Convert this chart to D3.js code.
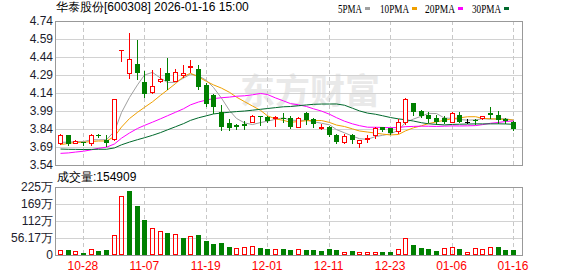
<!DOCTYPE html>
<html>
<head>
<meta charset="utf-8">
<script src="https://cdn.jsdelivr.net/npm/d3@7"></script>
<style>
  body { margin: 0; background: #fff; }
  text { font-family: "Liberation Sans", Arial, sans-serif; }
</style>
</head>
<body>
<div id="chart"></div>
<script>
// trading days shown on the chart
const dates = ["10-23","10-24","10-27","10-28","10-29","10-30","10-31",
  "11-03","11-04","11-05","11-06","11-07","11-10","11-11","11-12","11-13","11-14","11-17","11-18","11-19","11-20","11-21","11-24","11-25","11-26","11-27","11-28",
  "12-01","12-02","12-03","12-04","12-05","12-08","12-09","12-10","12-11","12-12","12-15","12-16","12-17","12-18","12-19","12-22","12-23","12-24","12-25","12-26","12-29","12-30","12-31",
  "01-05","01-06","01-07","01-08","01-09","01-12","01-13","01-14","01-15","01-16"];

const opens  = [3.72,3.79,3.72,3.73,3.72,3.79,3.75,3.76,4.50,4.31,4.38,4.23,4.15,4.24,4.31,4.24,4.29,4.36,4.34,4.21,4.12,3.98,3.89,3.87,3.88,3.90,3.95,3.94,3.93,3.93,
                3.93,3.86,3.97,3.92,3.855,3.86,3.79,3.735,3.79,3.72,3.76,3.79,3.855,3.845,3.82,3.90,4.06,3.99,3.96,3.935,3.935,3.90,3.955,3.90,3.915,3.93,3.975,3.955,3.92,3.895];
const highs  = [3.80,3.79,3.745,3.735,3.80,3.80,3.79,4.09,4.50,4.64,4.58,4.32,4.33,4.35,4.43,4.34,4.37,4.415,4.37,4.22,4.13,4.04,3.92,3.88,3.91,3.96,3.95,3.95,3.95,3.97,
                3.945,3.94,3.985,3.93,3.88,3.865,3.80,3.80,3.80,3.75,3.79,3.855,3.86,3.85,3.92,4.095,4.06,4.00,3.985,3.955,3.945,3.985,3.985,3.92,3.92,3.95,4.02,3.99,3.935,3.905];
const lows   = [3.71,3.71,3.715,3.71,3.70,3.775,3.70,3.74,4.41,4.26,4.26,4.11,4.13,4.22,4.17,4.23,4.265,4.31,4.17,4.03,3.97,3.83,3.83,3.84,3.84,3.895,3.875,3.90,3.855,3.90,
                3.845,3.85,3.885,3.855,3.83,3.78,3.72,3.715,3.72,3.685,3.725,3.76,3.82,3.80,3.80,3.87,3.955,3.94,3.895,3.88,3.89,3.895,3.895,3.89,3.885,3.915,3.935,3.89,3.89,3.835];
const closes = [3.79,3.715,3.74,3.72,3.79,3.785,3.72,4.09,4.50,4.42,4.31,4.13,4.20,4.26,4.24,4.315,4.305,4.365,4.19,4.05,4.02,3.86,3.85,3.86,3.865,3.95,3.945,3.905,3.94,3.925,
                3.855,3.93,3.915,3.88,3.86,3.79,3.73,3.78,3.745,3.75,3.765,3.845,3.83,3.81,3.90,4.09,3.985,3.95,3.925,3.895,3.90,3.975,3.90,3.90,3.905,3.95,3.955,3.915,3.905,3.84];
// closes of the 29 sessions before the window (needed for the moving averages)
const prevCloses = [3.78,3.76,3.75,3.77,3.74,3.73,3.75,3.72,3.74,3.71,
                    3.64,3.60,3.58,3.55,3.54,3.53,3.55,3.54,3.55,3.56,
                    3.62,3.66,3.70,3.73,3.74,3.72,3.71,3.72,3.71];
// volume, in 万手
const volumes = [16.5,17,12,7.7,18.7,14.3,16.5,66,195,211,162,115.6,88,79,72.7,69.4,56.2,62.8,66,46,36.3,39.6,26.4,22,25.3,28.6,23,19.8,18.7,19.8,
                 16.5,19.8,16.5,16.5,13.2,19.8,16.5,11,13.2,11,11,11,8.8,8.8,19.8,55,33,24.2,19.8,13.2,22,25.3,19.8,11,22,18.7,25.3,26.4,16.5,15.4909];

const priceTicks = [3.54,3.69,3.84,3.99,4.14,4.29,4.44,4.59,4.74];
const volTicks = [0,56.17,112.34,168.51,224.68];
const volTickLabels = ["0","56.17万","112万","169万","225万"];
const dateTicks = ["10-28","11-07","11-19","12-01","12-11","12-23","01-06","01-16"];
const maPeriods = [5,10,20,30];
const maLabels = ["5PMA","10PMA","20PMA","30PMA"];
const maColors = ["#a0a0a0","#f0a000","#ff00ff","#00692c"];

const width = 578, height = 276;
const left = 56, right = 522;
const pTop = 21, pBottom = 165, vTop = 187, vBottom = 255;
const step = 7.68;
const red = "#ff0000", green = "#008000";

const svg = d3.select("#chart").append("svg")
    .attr("width", width)
    .attr("height", height);

const x = d3.scaleBand()
    .domain(dates)
    .range([left, left + dates.length * step]);
const cx = d => Math.round(x(d) + x.bandwidth() / 2);

const y = d3.scaleLinear().domain([3.54, 4.74]).range([pBottom, pTop]);
const yv = d3.scaleLinear().domain([0, 224.68]).range([vBottom, vTop]);

const bars = dates.map((d, i) => ({
    date: d, open: opens[i], high: highs[i], low: lows[i], close: closes[i], vol: volumes[i],
    prev: i === 0 ? prevCloses[prevCloses.length - 1] : closes[i - 1]
}));

// watermark
svg.append("text")
    .attr("x", 240)
    .attr("y", 104)
    .style("font-family", "'Noto Sans CJK SC'")
    .style("font-size", "35px")
    .style("font-weight", "bold")
    .attr("fill", "#e9e9e9")
    .text("东方财富");

// horizontal grid
svg.append("g")
    .selectAll("line")
    .data(priceTicks)
    .enter().append("line")
    .attr("x1", left).attr("x2", right)
    .attr("y1", d => Math.round(y(d)) + 0.5)
    .attr("y2", d => Math.round(y(d)) + 0.5)
    .attr("stroke", "#d2d2d2");

svg.append("g")
    .selectAll("line")
    .data(volTicks)
    .enter().append("line")
    .attr("x1", left).attr("x2", right)
    .attr("y1", d => Math.round(yv(d)) + 0.5)
    .attr("y2", d => Math.round(yv(d)) + 0.5)
    .attr("stroke", "#d2d2d2");

// vertical dashed lines
[[pTop, pBottom], [vTop, vBottom]].forEach(([t, b]) => {
    svg.append("g")
        .selectAll("line")
        .data(dateTicks)
        .enter().append("line")
        .attr("x1", d => cx(d) + 0.5).attr("x2", d => cx(d) + 0.5)
        .attr("y1", t).attr("y2", b)
        .attr("stroke", "#c8c8c8")
        .attr("stroke-dasharray", "4,3");
});

// panel frames
[[pTop, pBottom], [vTop, vBottom]].forEach(([t, b]) => {
    svg.append("rect")
        .attr("x", left - 0.5).attr("y", t + 0.5)
        .attr("width", right - left + 1).attr("height", b - t)
        .attr("fill", "none")
        .attr("stroke", "#999");
});

// moving averages
const allCloses = prevCloses.concat(closes);
const off = prevCloses.length;
maPeriods.forEach((n, k) => {
    const ma = closes.map((c, i) => d3.mean(allCloses.slice(off + i - n + 1, off + i + 1)));
    const line = d3.line()
        .x((d, i) => cx(dates[i]) + 0.5)
        .y(d => y(d));
    svg.append("path")
        .datum(ma)
        .attr("fill", "none")
        .attr("stroke", maColors[k])
        .attr("stroke-width", 1)
        .attr("d", line);
});

// candles
const candleColor = d => {
    if (d.close > d.open) return red;
    if (d.close < d.open) return green;
    if (d.close > d.prev) return red;
    if (d.close < d.prev) return green;
    return "#000";
};

const candles = svg.append("g").selectAll("g")
    .data(bars)
    .enter().append("g");

candles.each(function (d) {
    const g = d3.select(this);
    const c = cx(d.date);
    const col = candleColor(d);
    const top = Math.round(y(Math.max(d.open, d.close)));
    const bot = Math.round(y(Math.min(d.open, d.close)));
    const hi = Math.round(y(d.high));
    const lo = Math.round(y(d.low));
    if (d.close > d.open) {
        // hollow red
        if (hi < top) g.append("line").attr("x1", c + 0.5).attr("x2", c + 0.5).attr("y1", hi).attr("y2", top).attr("stroke", col);
        if (lo > bot) g.append("line").attr("x1", c + 0.5).attr("x2", c + 0.5).attr("y1", bot).attr("y2", lo).attr("stroke", col);
        g.append("rect")
            .attr("x", c - 1.5).attr("y", top + 0.5)
            .attr("width", 4).attr("height", Math.max(1, bot - top))
            .attr("fill", "#fff").attr("stroke", col);
    } else {
        g.append("line").attr("x1", c + 0.5).attr("x2", c + 0.5).attr("y1", hi).attr("y2", lo + 1).attr("stroke", col);
        g.append("rect")
            .attr("x", c - 2).attr("y", top)
            .attr("width", 5).attr("height", Math.max(1, bot - top))
            .attr("fill", col);
    }
});

// volume bars
svg.append("g").selectAll("rect")
    .data(bars)
    .enter().append("rect")
    .each(function (d) {
        const up = d.close >= d.prev;
        const h = Math.max(1, Math.round(vBottom - yv(d.vol)));
        const c = cx(d.date);
        if (up) {
            d3.select(this)
                .attr("x", c - 1.5).attr("y", vBottom - h + 0.5)
                .attr("width", 4).attr("height", h - 1)
                .attr("fill", "none").attr("stroke", red);
        } else {
            d3.select(this)
                .attr("x", c - 2).attr("y", vBottom - h)
                .attr("width", 5).attr("height", h)
                .attr("fill", green);
        }
    });

// axes
svg.append("g")
    .attr("transform", `translate(${left},0)`)
    .call(d3.axisLeft(y).tickValues(priceTicks).tickFormat(d3.format(".2f")).tickSize(0).tickPadding(3))
    .call(g => g.select(".domain").remove())
    .selectAll("text")
    .style("font-size", "12px")
    .attr("fill", "#1c1c2c");

svg.append("g")
    .attr("transform", `translate(${left},0)`)
    .call(d3.axisLeft(yv).tickValues(volTicks).tickFormat((d, i) => volTickLabels[i]).tickSize(0).tickPadding(3))
    .call(g => g.select(".domain").remove())
    .selectAll("text")
    .style("font-size", "12px")
    .attr("fill", "#1c1c2c");

svg.append("g")
    .attr("transform", `translate(0,${vBottom})`)
    .call(d3.axisBottom(x).tickValues(dateTicks).tickSize(0).tickPadding(6))
    .call(g => g.select(".domain").remove())
    .selectAll("text")
    .style("font-size", "12px")
    .attr("fill", "#ff0000");

// title
svg.append("text")
    .attr("x", 56)
    .attr("y", 11)
    .style("font-size", "12px")
    .attr("fill", "#000")
    .text("华泰股份[600308] 2026-01-16 15:00");

// legend
const legendX = [338, 380, 425, 472];
const legendW = [24, 29, 30, 29];
maLabels.forEach((lab, k) => {
    svg.append("text")
        .attr("x", legendX[k])
        .attr("y", 12.5)
        .attr("textLength", legendW[k])
        .attr("lengthAdjust", "spacingAndGlyphs")
        .style("font-family", "'Liberation Serif', serif")
        .style("font-size", "12.5px")
        .attr("fill", "#000")
        .text(lab);
    svg.append("rect")
        .attr("x", legendX[k] + legendW[k] + 3)
        .attr("y", 7)
        .attr("width", 5).attr("height", 3)
        .attr("fill", maColors[k]);
});

// volume label
svg.append("text")
    .attr("x", 57)
    .attr("y", 181)
    .style("font-size", "12px")
    .attr("fill", "#000")
    .text("成交量:154909");
</script>
</body>
</html>
